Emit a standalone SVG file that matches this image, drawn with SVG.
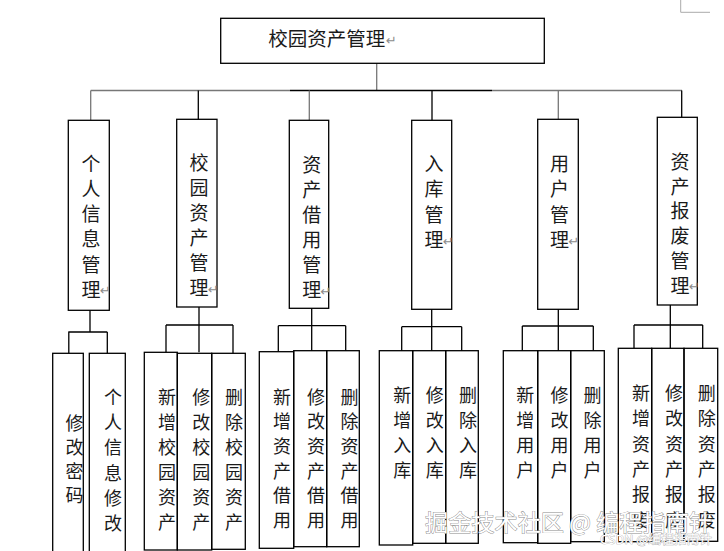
<svg xmlns="http://www.w3.org/2000/svg" width="724" height="551" viewBox="0 0 724 551">
<style>
.box{fill:none;stroke:#000;stroke-width:1.3}
.ln{stroke:#000;stroke-width:1.3;fill:none}
.lg{stroke:#777;stroke-width:1.3;fill:none}
.t1{font-family:"Noto Sans CJK SC","Noto Sans CJK JP",sans-serif;font-size:19px;text-anchor:middle;fill:#1a1a1a}
.t2{font-family:"Noto Sans CJK SC","Noto Sans CJK JP",sans-serif;font-size:18px;text-anchor:middle;fill:#1a1a1a}
.ret{font-family:"DejaVu Sans",sans-serif;font-size:13px;fill:#8c8c8c}
.wm{font-family:"Noto Sans CJK SC",sans-serif;fill:#fff;stroke:#8a8a8a;stroke-width:0.9;paint-order:stroke}
</style>
<rect x="0" y="0" width="724" height="551" fill="#fff"/>
<path d="M680.7 0V12.3H710" stroke="#aaa" stroke-width="1" fill="none"/>

<g id="connectors">
  <line class="lg" x1="376.7" y1="63.3" x2="376.7" y2="91"/>
  <line class="lg" x1="90.7" y1="90.5" x2="290" y2="90.5"/>
  <line class="ln" x1="290" y1="90.5" x2="492" y2="90.5"/>
  <line class="lg" x1="492" y1="90.5" x2="682" y2="90.5"/>
  <line class="lg" x1="90.7" y1="90.5" x2="90.7" y2="120"/>
  <line class="ln" x1="198.3" y1="90.5" x2="198.3" y2="119.3"/>
  <line class="lg" x1="309.3" y1="90.5" x2="309.3" y2="120.3"/>
  <line class="ln" x1="432" y1="90.5" x2="432" y2="120.3"/>
  <line class="lg" x1="558.3" y1="90.5" x2="558.3" y2="119.3"/>
  <line class="ln" x1="681.7" y1="90.5" x2="681.7" y2="117.3"/>

  <path class="ln" d="M90 310.3V332M68.3 332H107.3M68.8 332V353.3M107.3 332V353.3"/>
  <path class="ln" d="M199 307V352.3M166 325H233M166 325V352.3M233 325V353.3"/>
  <path class="ln" d="M311.7 308.3V350.7M278.3 325.7H345.7M278.3 325.7V351.7M345.7 325.7V350.7"/>
  <path class="ln" d="M431.7 309.3V350.7M401.7 326.7H461.7M401.7 326.7V350.7M461.7 326.7V350.7"/>
  <path class="ln" d="M558.3 309.3V350.7M522.3 326H593.3M522.3 326V350.7M593.3 326V350.7"/>
  <path class="ln" d="M670.3 305V348.3M634 325H702.7M634 325V348.3M702.7 325V348.3"/>
</g>

<g id="root">
  <rect class="box" x="220.7" y="18.3" width="323.6" height="45"/>
  <text x="268.3" y="45.5" style="font-family:'Noto Sans CJK SC',sans-serif;font-size:19.5px;fill:#1a1a1a">校园资产管理</text>
  <text class="ret" x="386" y="45">↵</text>
</g>

<g id="n1">
  <rect class="box" x="68.3" y="120.3" width="41" height="190"/>
  <text class="t1"><tspan x="91" y="170.5">个</tspan><tspan x="91" dy="25.3">人</tspan><tspan x="91" dy="25.3">信</tspan><tspan x="91" dy="25.3">息</tspan><tspan x="91" dy="25.3">管</tspan><tspan x="91" dy="25.3">理</tspan></text>
  <text class="ret" x="100" y="295">↵</text>
</g>
<g id="n2">
  <rect class="box" x="176.7" y="119.3" width="40.3" height="187.7"/>
  <text class="t1"><tspan x="199" y="170">校</tspan><tspan x="199" dy="25">园</tspan><tspan x="199" dy="25">资</tspan><tspan x="199" dy="25">产</tspan><tspan x="199" dy="25">管</tspan><tspan x="199" dy="25">理</tspan></text>
  <text class="ret" x="208" y="294">↵</text>
</g>
<g id="n3">
  <rect class="box" x="289.3" y="120.3" width="39.4" height="188"/>
  <text class="t1"><tspan x="311.7" y="172">资</tspan><tspan x="311.7" dy="25">产</tspan><tspan x="311.7" dy="25">借</tspan><tspan x="311.7" dy="25">用</tspan><tspan x="311.7" dy="25">管</tspan><tspan x="311.7" dy="25">理</tspan></text>
  <text class="ret" x="320.5" y="296">↵</text>
</g>
<g id="n4">
  <rect class="box" x="411.7" y="120.3" width="40" height="189"/>
  <text class="t1"><tspan x="434" y="170.5">入</tspan><tspan x="434" dy="25.6">库</tspan><tspan x="434" dy="25.6">管</tspan><tspan x="434" dy="25.6">理</tspan></text>
  <text class="ret" x="443" y="246">↵</text>
</g>
<g id="n5">
  <rect class="box" x="537.7" y="119.3" width="40.6" height="190"/>
  <text class="t1"><tspan x="559.5" y="170.5">用</tspan><tspan x="559.5" dy="25.6">户</tspan><tspan x="559.5" dy="25.6">管</tspan><tspan x="559.5" dy="25.6">理</tspan></text>
  <text class="ret" x="568.5" y="246">↵</text>
</g>
<g id="n6">
  <rect class="box" x="657.3" y="117.3" width="40" height="187.7"/>
  <text class="t1"><tspan x="680" y="169">资</tspan><tspan x="680" dy="24.7">产</tspan><tspan x="680" dy="24.7">报</tspan><tspan x="680" dy="24.7">废</tspan><tspan x="680" dy="24.7">管</tspan><tspan x="680" dy="24.7">理</tspan></text>
  <text class="ret" x="689" y="291">↵</text>
</g>

<g id="n1a">
  <rect class="box" x="52.7" y="353.3" width="30.6" height="205"/>
  <text class="t2"><tspan x="74.5" y="430">修</tspan><tspan x="74.5" dy="24.1">改</tspan><tspan x="74.5" dy="24.1">密</tspan><tspan x="74.5" dy="24.1">码</tspan></text>
</g>
<g id="n1b">
  <rect class="box" x="89.3" y="353.3" width="36" height="205"/>
  <text class="t2"><tspan x="113" y="404">个</tspan><tspan x="113" dy="25.2">人</tspan><tspan x="113" dy="25.2">信</tspan><tspan x="113" dy="25.2">息</tspan><tspan x="113" dy="25.2">修</tspan><tspan x="113" dy="25.2">改</tspan></text>
</g>

<g id="n2a">
  <rect class="box" x="144.3" y="352.3" width="33" height="197.7"/>
  <text class="t2"><tspan x="167" y="403.5">新</tspan><tspan x="167" dy="25">增</tspan><tspan x="167" dy="25">校</tspan><tspan x="167" dy="25">园</tspan><tspan x="167" dy="25">资</tspan><tspan x="167" dy="25">产</tspan></text>
</g>
<g id="n2b">
  <rect class="box" x="177.3" y="353.3" width="34.4" height="196.7"/>
  <text class="t2"><tspan x="201.3" y="403.5">修</tspan><tspan x="201.3" dy="25">改</tspan><tspan x="201.3" dy="25">校</tspan><tspan x="201.3" dy="25">园</tspan><tspan x="201.3" dy="25">资</tspan><tspan x="201.3" dy="25">产</tspan></text>
</g>
<g id="n2c">
  <rect class="box" x="211.7" y="353.3" width="33.6" height="196"/>
  <text class="t2"><tspan x="234" y="403.5">删</tspan><tspan x="234" dy="25">除</tspan><tspan x="234" dy="25">校</tspan><tspan x="234" dy="25">园</tspan><tspan x="234" dy="25">资</tspan><tspan x="234" dy="25">产</tspan></text>
</g>

<g id="n3a">
  <rect class="box" x="259.3" y="351.7" width="34.4" height="196.6"/>
  <text class="t2"><tspan x="282" y="403.5">新</tspan><tspan x="282" dy="24.7">增</tspan><tspan x="282" dy="24.7">资</tspan><tspan x="282" dy="24.7">产</tspan><tspan x="282" dy="24.7">借</tspan><tspan x="282" dy="24.7">用</tspan></text>
</g>
<g id="n3b">
  <rect class="box" x="293.7" y="350.7" width="33" height="196"/>
  <text class="t2"><tspan x="316" y="403.5">修</tspan><tspan x="316" dy="24.7">改</tspan><tspan x="316" dy="24.7">资</tspan><tspan x="316" dy="24.7">产</tspan><tspan x="316" dy="24.7">借</tspan><tspan x="316" dy="24.7">用</tspan></text>
</g>
<g id="n3c">
  <rect class="box" x="326.7" y="350.7" width="32.6" height="196"/>
  <text class="t2"><tspan x="349.5" y="403.5">删</tspan><tspan x="349.5" dy="24.7">除</tspan><tspan x="349.5" dy="24.7">资</tspan><tspan x="349.5" dy="24.7">产</tspan><tspan x="349.5" dy="24.7">借</tspan><tspan x="349.5" dy="24.7">用</tspan></text>
</g>

<g id="n4a">
  <rect class="box" x="379.3" y="350.7" width="33.4" height="194.3"/>
  <text class="t2"><tspan x="402.3" y="402">新</tspan><tspan x="402.3" dy="25">增</tspan><tspan x="402.3" dy="25">入</tspan><tspan x="402.3" dy="25">库</tspan></text>
</g>
<g id="n4b">
  <rect class="box" x="412.7" y="350.7" width="33" height="192.6"/>
  <text class="t2"><tspan x="434.8" y="402">修</tspan><tspan x="434.8" dy="25">改</tspan><tspan x="434.8" dy="25">入</tspan><tspan x="434.8" dy="25">库</tspan></text>
</g>
<g id="n4c">
  <rect class="box" x="445.7" y="350.7" width="32.6" height="192.6"/>
  <text class="t2"><tspan x="468" y="402">删</tspan><tspan x="468" dy="25">除</tspan><tspan x="468" dy="25">入</tspan><tspan x="468" dy="25">库</tspan></text>
</g>

<g id="n5a">
  <rect class="box" x="503.3" y="350.7" width="34.4" height="192"/>
  <text class="t2"><tspan x="525.3" y="402">新</tspan><tspan x="525.3" dy="25">增</tspan><tspan x="525.3" dy="25">用</tspan><tspan x="525.3" dy="25">户</tspan></text>
</g>
<g id="n5b">
  <rect class="box" x="537.7" y="350.7" width="33" height="192.6"/>
  <text class="t2"><tspan x="559.5" y="402">修</tspan><tspan x="559.5" dy="25">改</tspan><tspan x="559.5" dy="25">用</tspan><tspan x="559.5" dy="25">户</tspan></text>
</g>
<g id="n5c">
  <rect class="box" x="570.7" y="350.7" width="33.6" height="191"/>
  <text class="t2"><tspan x="592.5" y="402">删</tspan><tspan x="592.5" dy="25">除</tspan><tspan x="592.5" dy="25">用</tspan><tspan x="592.5" dy="25">户</tspan></text>
</g>

<g id="n6a">
  <rect class="box" x="618.3" y="348.3" width="33.4" height="193.4"/>
  <text class="t2"><tspan x="641" y="400">新</tspan><tspan x="641" dy="25.3">增</tspan><tspan x="641" dy="25.3">资</tspan><tspan x="641" dy="25.3">产</tspan><tspan x="641" dy="25.3">报</tspan><tspan x="641" dy="25.3">废</tspan></text>
</g>
<g id="n6b">
  <rect class="box" x="651.7" y="348.3" width="32.3" height="193"/>
  <text class="t2"><tspan x="674" y="400">修</tspan><tspan x="674" dy="25.3">改</tspan><tspan x="674" dy="25.3">资</tspan><tspan x="674" dy="25.3">产</tspan><tspan x="674" dy="25.3">报</tspan><tspan x="674" dy="25.3">废</tspan></text>
</g>
<g id="n6c">
  <rect class="box" x="684" y="348.3" width="33.7" height="193"/>
  <text class="t2"><tspan x="706.7" y="400">删</tspan><tspan x="706.7" dy="25.3">除</tspan><tspan x="706.7" dy="25.3">资</tspan><tspan x="706.7" dy="25.3">产</tspan><tspan x="706.7" dy="25.3">报</tspan><tspan x="706.7" dy="25.3">废</tspan></text>
</g>

<g id="watermark">
  <text class="wm" x="425" y="530.5" font-size="23" textLength="287" lengthAdjust="spacingAndGlyphs">掘金技术社区 @ 编程指南针</text>
  <text class="wm" x="600" y="544" font-size="12" textLength="112" lengthAdjust="spacingAndGlyphs" style="stroke:#aaa;stroke-width:0.7">CSDN @编程指南针</text>
</g>
</svg>
